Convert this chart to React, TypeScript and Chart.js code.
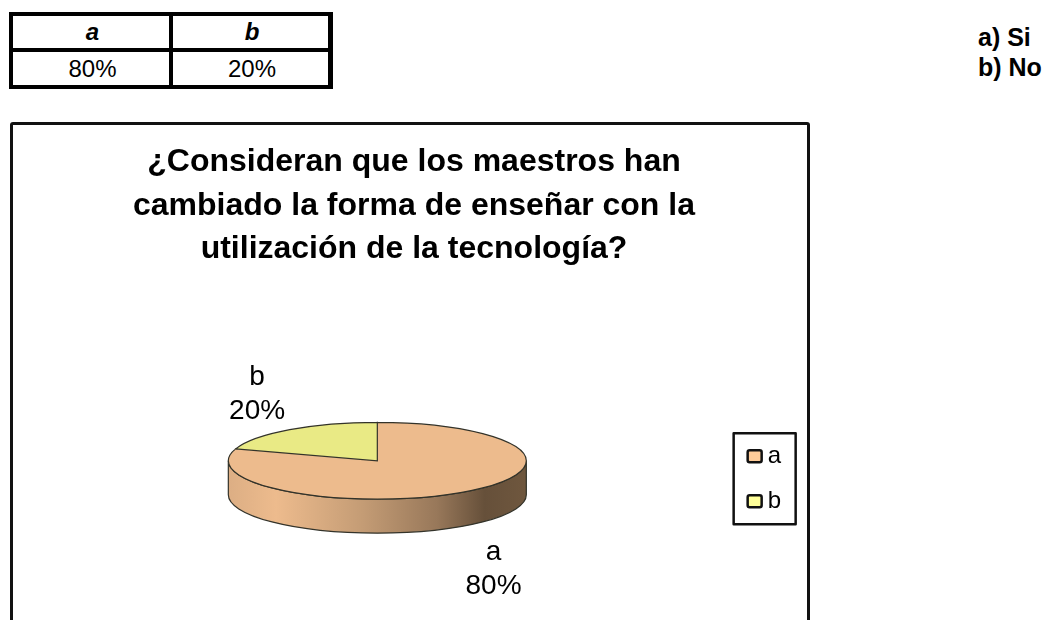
import React, { useEffect, useRef } from "react";
import { Chart, registerables } from "chart.js";

Chart.register(...registerables);

const categories = ["a", "b"];
const percentValues = [80, 20];
const answerLines = ["a) Si", "b) No"];
const titleLines = [
  "¿Consideran que los maestros han",
  "cambiado la forma de enseñar con la",
  "utilización de la tecnología?",
];
const sliceColors = ["#EDBB8D", "#E9EA85"];
const legendColors = ["#FFCC99", "#FFFF99"];

const FONT = "'Liberation Sans', Arial, sans-serif";
const TILT = 0.258;
const DEPTH = 34;
const PIE_DX = -4;
const PIE_DY = -1;
const EDGE = "#33332a";

const piePlugin = {
  id: "tiltedPie",
  beforeDatasetDraw(chart: any) {
    const ctx = chart.ctx;
    const arcs = chart.getDatasetMeta(0).data;
    const { x, y: cy, outerRadius: r } = arcs[0].getProps(["x", "y", "outerRadius"], true);
    const cx = x + PIE_DX;
    const top = cy + PIE_DY - DEPTH / 2;
    const ry = r * TILT;
    // rim
    const g = ctx.createLinearGradient(cx - r, 0, cx + r, 0);
    g.addColorStop(0, "#dcae84");
    g.addColorStop(0.16, "#EDBB8D");
    g.addColorStop(0.45, "#c49c75");
    g.addColorStop(0.7, "#98785a");
    g.addColorStop(0.86, "#66503a");
    g.addColorStop(1, "#6f573e");
    ctx.save();
    ctx.beginPath();
    ctx.ellipse(cx, top, r, ry, 0, 0, Math.PI);
    ctx.ellipse(cx, top + DEPTH, r, ry, 0, Math.PI, 0, true);
    ctx.closePath();
    ctx.fillStyle = g;
    ctx.fill();
    ctx.strokeStyle = EDGE;
    ctx.lineWidth = 1.2;
    ctx.stroke();
    ctx.restore();
    // squash the pie itself
    ctx.save();
    ctx.translate(cx, top);
    ctx.scale(1, TILT);
    ctx.translate(-x, -cy);
  },
  afterDatasetDraw(chart: any) {
    const ctx = chart.ctx;
    const arcs = chart.getDatasetMeta(0).data;
    // path is built under the squash, stroked without it
    ctx.beginPath();
    arcs.forEach((el: any) => {
      const p = el.getProps(["x", "y", "startAngle", "endAngle", "outerRadius"], true);
      ctx.moveTo(p.x, p.y);
      ctx.arc(p.x, p.y, p.outerRadius, p.startAngle, p.endAngle);
      ctx.closePath();
    });
    ctx.restore();
    ctx.strokeStyle = EDGE;
    ctx.lineWidth = 1.2;
    ctx.stroke();
    // outside labels
    ctx.save();
    ctx.fillStyle = "#000";
    ctx.font = `28px ${FONT}`;
    ctx.textAlign = "center";
    ctx.textBaseline = "middle";
    arcs.forEach((el: any, i: number) => {
      const p = el.getProps(["x", "y", "startAngle", "endAngle", "outerRadius"], true);
      const mid = (p.startAngle + p.endAngle) / 2;
      const lx = p.x + PIE_DX - 2 + Math.cos(mid) * p.outerRadius * 1.35;
      const ly = p.y + 3 + Math.sin(mid) * 108;
      ctx.fillText(categories[i], lx, ly - 17);
      ctx.fillText(`${percentValues[i]}%`, lx, ly + 17);
    });
    ctx.restore();
  },
  afterDraw(chart: any) {
    const ctx = chart.ctx;
    const hits = chart.legend.legendHitBoxes;
    const midY = (h: any) => h.top + h.height / 2;
    ctx.save();
    ctx.strokeStyle = "#111";
    ctx.lineWidth = 2.5;
    ctx.lineJoin = "round";
    ctx.strokeRect(hits[0].left - 13, midY(hits[0]) - 23, 62, midY(hits[1]) - midY(hits[0]) + 46);
    hits.forEach((h: any, i: number) => {
      ctx.beginPath();
      ctx.roundRect(h.left + 1, midY(h) - 6, 14, 12, 2);
      ctx.fillStyle = legendColors[i];
      ctx.fill();
      ctx.stroke();
    });
    ctx.restore();
  },
};

export default function App() {
  const ref = useRef<HTMLCanvasElement>(null);
  useEffect(() => {
    const chart = new Chart(ref.current as HTMLCanvasElement, {
      type: "pie",
      data: {
        labels: categories,
        datasets: [
          {
            data: percentValues,
            backgroundColor: sliceColors,
            borderWidth: 0,
            radius: 149,
            clip: false,
          } as any,
        ],
      },
      options: {
        responsive: false,
        animation: false,
        devicePixelRatio: 1,
        events: [],
        layout: { padding: { left: 24, right: 16, top: 0, bottom: 0 } },
        plugins: {
          tooltip: { enabled: false },
          title: {
            display: true,
            text: titleLines,
            color: "#000",
            font: { family: FONT, size: 32, weight: "bold", lineHeight: 1.37 },
            padding: { top: 15, bottom: 7 },
          },
          legend: {
            display: true,
            position: "right",
            fullSize: false,
            labels: {
              boxWidth: 9,
              boxHeight: 12,
              padding: 21,
              color: "#000",
              font: { family: FONT, size: 24 },
              generateLabels: () =>
                categories.map((text, index) => ({
                  text,
                  index,
                  fillStyle: "rgba(0,0,0,0)",
                  strokeStyle: "rgba(0,0,0,0)",
                  lineWidth: 0,
                  hidden: false,
                })),
            },
          },
        },
      },
      plugins: [piePlugin],
    } as any);
    return () => chart.destroy();
  }, []);

  const cell: React.CSSProperties = {
    background: "#fff",
    display: "flex",
    alignItems: "center",
    justifyContent: "center",
    color: "#000",
    paddingLeft: 3,
  };

  return (
    <div
      style={{
        position: "fixed",
        left: 0,
        top: 0,
        width: 1045,
        height: 620,
        overflow: "hidden",
        background: "#fff",
        fontFamily: FONT,
      }}
    >
      <div
        style={{
          position: "absolute",
          left: 9,
          top: 12,
          width: 324,
          height: 77,
          boxSizing: "border-box",
          padding: 4,
          background: "#000",
          display: "grid",
          gridTemplateColumns: "156px 155px",
          gridTemplateRows: "32px 33px",
          gap: 4,
          fontSize: 24,
          lineHeight: 1,
        }}
      >
        {categories.map((c) => (
          <div key={c} style={{ ...cell, fontWeight: "bold", fontStyle: "italic" }}>
            {c}
          </div>
        ))}
        {percentValues.map((v, i) => (
          <div key={i} style={cell}>
            {v}%
          </div>
        ))}
      </div>
      <div
        style={{
          position: "absolute",
          left: 978,
          top: 22,
          fontSize: 25,
          fontWeight: "bold",
          lineHeight: "30px",
          whiteSpace: "nowrap",
          color: "#000",
        }}
      >
        {answerLines.map((l) => (
          <div key={l}>{l}</div>
        ))}
      </div>
      <div
        style={{
          position: "absolute",
          left: 10,
          top: 122,
          width: 800,
          height: 620,
          boxSizing: "border-box",
          border: "3px solid #111",
          borderRadius: 3,
        }}
      >
        <canvas ref={ref} width={794} height={554} style={{ display: "block" }} />
      </div>
    </div>
  );
}
